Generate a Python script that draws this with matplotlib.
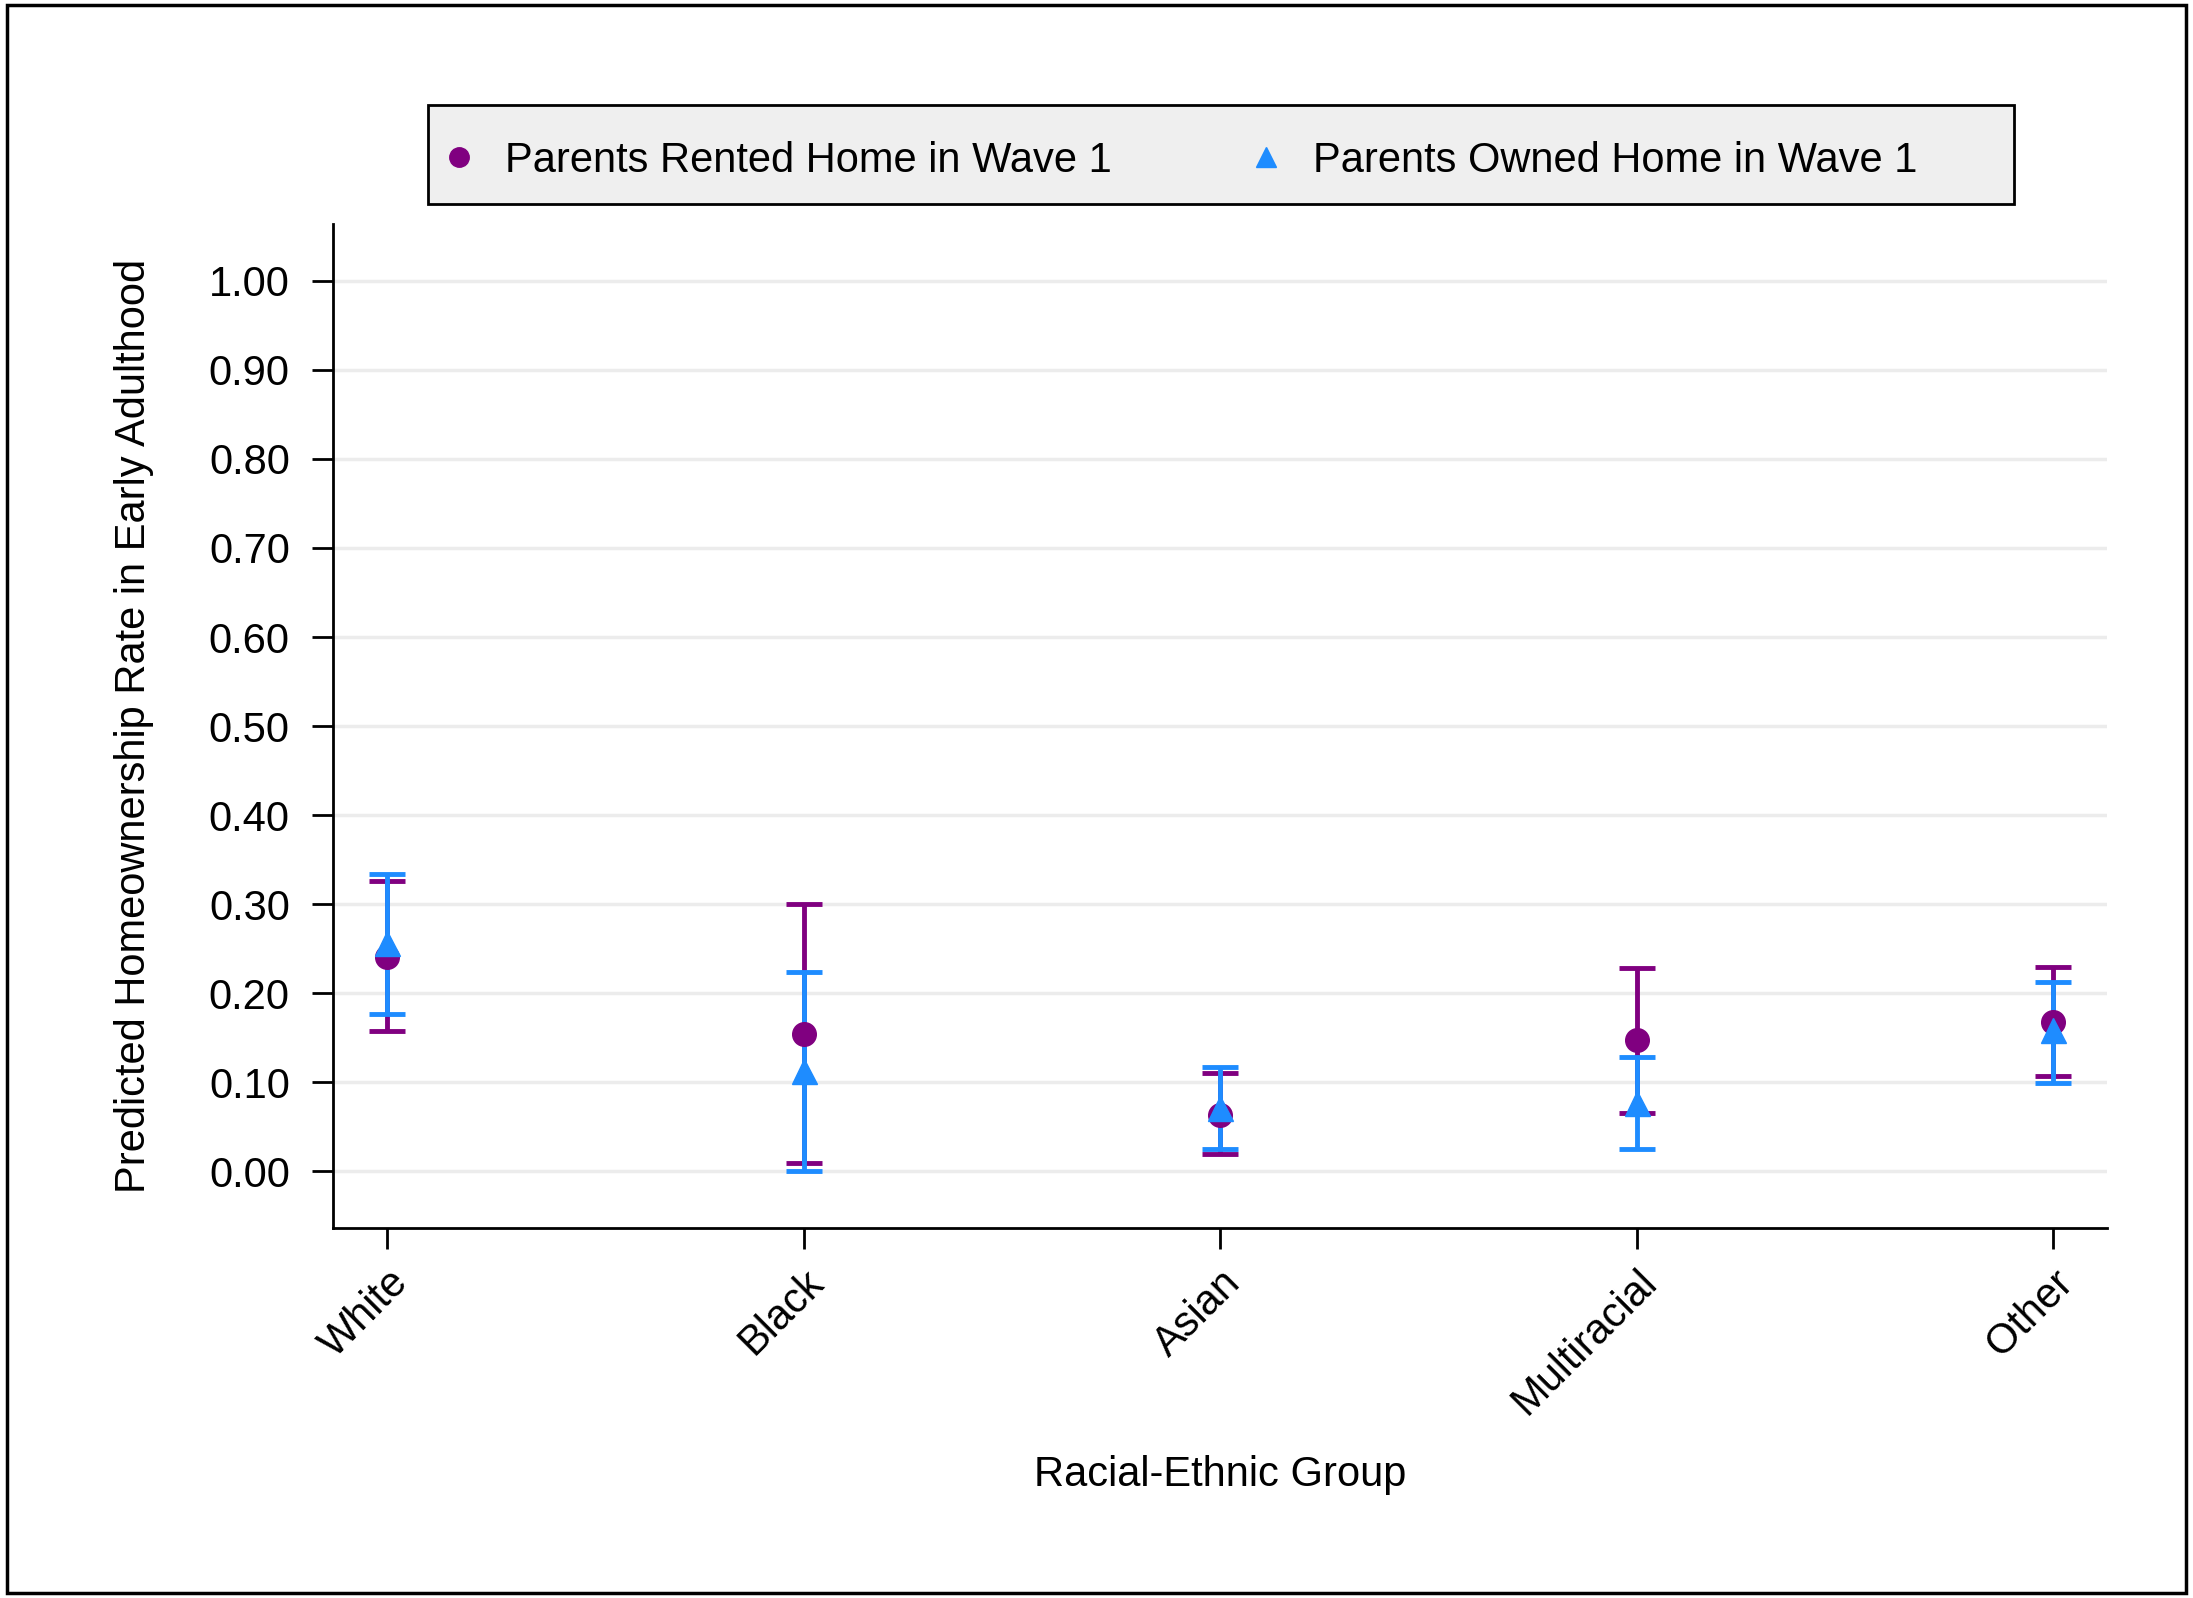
import numpy as np
import matplotlib
matplotlib.use("Agg")
from matplotlib import pyplot as plt
from matplotlib.lines import Line2D
from matplotlib.patches import Rectangle

groups = ["White", "Black", "Asian", "Multiracial", "Other"]

rented_est = [0.241, 0.154, 0.063, 0.148, 0.168]
rented_lo = [0.158, 0.009, 0.020, 0.066, 0.107]
rented_hi = [0.326, 0.300, 0.110, 0.228, 0.230]

owned_est = [0.256, 0.113, 0.071, 0.077, 0.159]
owned_lo = [0.177, 0.000, 0.025, 0.025, 0.099]
owned_hi = [0.334, 0.224, 0.117, 0.129, 0.213]

yticks = [0.0, 0.1, 0.2, 0.3, 0.4, 0.5, 0.6, 0.7, 0.8, 0.9, 1.0]

PURPLE = "#800080"
BLUE = "#1e8cff"
FS = 30

plt.rcParams['font.family'] = ['Liberation Sans', 'DejaVu Sans']

fig = plt.figure(figsize=(21.93, 15.98), dpi=100)
ax = fig.add_axes([0.1518, 0.2318, 0.961 - 0.1518, 0.860 - 0.2318])

x = np.arange(len(groups))


def draw_series(est, lo, hi, color, marker, ms):
    est = np.array(est)
    yerr = [est - np.array(lo), np.array(hi) - est]
    ax.errorbar(x, est, yerr=yerr, fmt=marker, color=color, ecolor=color,
                markersize=ms, elinewidth=3.5, capsize=13, capthick=3.5, zorder=3)


draw_series(rented_est, rented_lo, rented_hi, PURPLE, 'o', 17)
draw_series(owned_est, owned_lo, owned_hi, BLUE, '^', 18)

ax.set_xlim(-0.131, 4.131)
ax.set_ylim(-0.063, 1.064)
ax.set_yticks(yticks)
ax.set_yticklabels(["%.2f" % v for v in yticks])
ax.set_xticks(x)
ax.set_xticklabels(groups, rotation=45, ha='right', rotation_mode='anchor')

for v in yticks:
    ax.axhline(v, color="#ececec", linewidth=2.5, zorder=0)

ax.spines['top'].set_visible(False)
ax.spines['right'].set_visible(False)
ax.spines['left'].set_linewidth(2)
ax.spines['bottom'].set_linewidth(2)
ax.tick_params(axis='y', length=15, width=2, pad=16, labelsize=FS)
ax.tick_params(axis='x', length=15, width=2, pad=10, labelsize=FS)

ax.set_ylabel("Predicted Homeownership Rate in Early Adulthood", fontsize=FS, va='center')
ax.yaxis.set_label_coords(-0.112, 0.5)
ax.set_xlabel("Racial-Ethnic Group", fontsize=FS, va='center')
ax.xaxis.set_label_coords(0.5, -0.2465)

# legend box drawn by hand so the entries can sit left of centre like the original
fig.patches.append(Rectangle((306 / 1568, 1 - 146 / 1143), (1440 - 306) / 1568, 71 / 1143,
                             transform=fig.transFigure, facecolor="#efefef",
                             edgecolor='black', linewidth=2, zorder=0))
handles = [
    Line2D([], [], marker='o', color=PURPLE, linestyle='none', markersize=14),
    Line2D([], [], marker='^', color=BLUE, linestyle='none', markersize=14),
]
leg = fig.legend(handles, ["Parents Rented Home in Wave 1", "Parents Owned Home in Wave 1"],
                 loc='center left', bbox_to_anchor=(313 / 1568, 1 - 115 / 1143),
                 ncol=2, fontsize=FS, frameon=False, borderpad=0, borderaxespad=0,
                 handlelength=1.0, handletextpad=0.62, columnspacing=3.2)

# outer border around whole picture
fig.patches.append(Rectangle((0.003, 0.003), 0.994, 0.994, transform=fig.transFigure,
                             fill=False, edgecolor='black', linewidth=2.5))

fig.savefig("out.png", dpi=100)
